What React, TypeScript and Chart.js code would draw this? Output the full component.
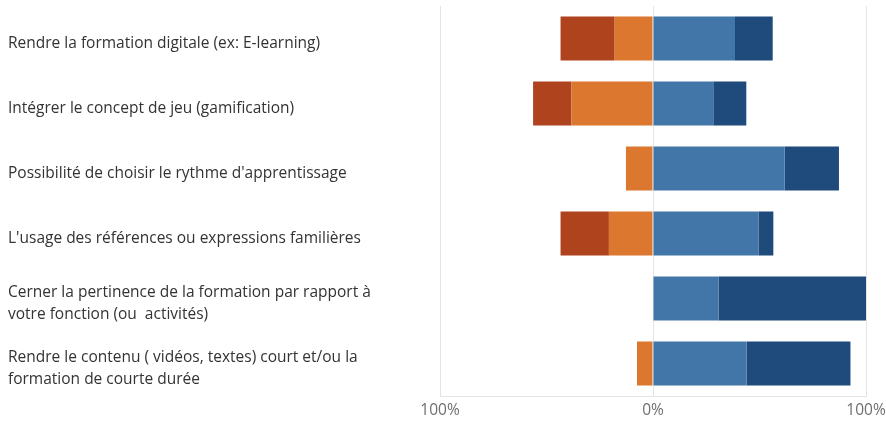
import React, { useEffect, useRef } from "react";
import { Chart, registerables } from "chart.js";

Chart.register(...registerables);

const categories: (string | string[])[] = [
  "Rendre la formation digitale (ex: E-learning)",
  "Intégrer le concept de jeu (gamification)",
  "Possibilité de choisir le rythme d'apprentissage",
  "L'usage des références ou expressions familières",
  ["Cerner la pertinence de la formation par rapport à", "votre fonction (ou  activités)"],
  ["Rendre le contenu ( vidéos, textes) court et/ou la", "formation de courte durée"],
];

// percentages (negative side values stored as positive magnitudes)
const stronglyDisagree = [25.4, 18.0, 0, 22.7, 0, 0];
const disagree = [18.0, 38.3, 12.7, 20.7, 0, 7.5];
const agree = [38.5, 28.3, 61.8, 49.5, 30.8, 44.0];
const stronglyAgree = [17.7, 15.5, 25.5, 7.0, 69.2, 48.7];

const xTicks = [-100, 0, 100];

const FONT = "'Open Sans', 'Noto Sans', sans-serif";

export default function App() {
  const ref = useRef<HTMLCanvasElement | null>(null);

  useEffect(() => {
    if (!ref.current) return;
    const neg = (a: number[]) => a.map((v) => -v);
    const chart = new Chart(ref.current, {
      type: "bar",
      data: {
        labels: categories,
        datasets: [
          { label: "Plutôt pas d'accord", data: neg(disagree), backgroundColor: "#DB772E" },
          { label: "Pas du tout d'accord", data: neg(stronglyDisagree), backgroundColor: "#AE431E" },
          { label: "Plutôt d'accord", data: agree, backgroundColor: "#4276A9" },
          { label: "Tout à fait d'accord", data: stronglyAgree, backgroundColor: "#1E4A7C" },
        ],
      },
      options: {
        indexAxis: "y",
        responsive: false,
        animation: false,
        maintainAspectRatio: false,
        layout: { padding: { top: 6, right: 0, bottom: 1, left: 8 } },
        datasets: {
          bar: { categoryPercentage: 1, barPercentage: 0.677, borderWidth: 0 },
        },
        plugins: {
          legend: { display: false },
          tooltip: { enabled: false },
        },
        scales: {
          x: {
            stacked: true,
            min: -100,
            max: 100,
            afterBuildTicks: (scale: any) => {
              scale.ticks = xTicks.map((v) => ({ value: v }));
            },
            afterFit: (scale: any) => {
              scale.height = 24;
              scale.paddingLeft = 0;
              scale.paddingRight = 20;
            },
            ticks: {
              padding: 5,
              color: "#6E6E6E",
              font: { family: FONT, size: 15.5, lineHeight: 1.2 },
              maxRotation: 0,
              callback: (v: any) => Math.abs(Number(v)) + "%",
            },
            grid: { color: "#E4E4E4", drawTicks: false, lineWidth: 1 },
            border: { display: true, color: "#E4E4E4" },
          },
          y: {
            stacked: true,
            afterFit: (scale: any) => {
              scale.width = 432;
              scale.paddingTop = 0;
              scale.paddingBottom = 0;
            },
            ticks: {
              crossAlign: "far",
              color: "#333333",
              padding: 8,
              labelOffset: 5,
              font: { family: FONT, size: 15.5, lineHeight: 1.4 },
            },
            grid: { display: false, drawTicks: false },
            border: { display: false },
          },
        },
      },
    } as any);
    return () => chart.destroy();
  }, []);

  return (
    <div style={{ position: "absolute", left: 0, top: 0, width: 886, height: 421, background: "#fff" }}>
      <canvas ref={ref} width={886} height={421} style={{ display: "block" }} />
    </div>
  );
}
